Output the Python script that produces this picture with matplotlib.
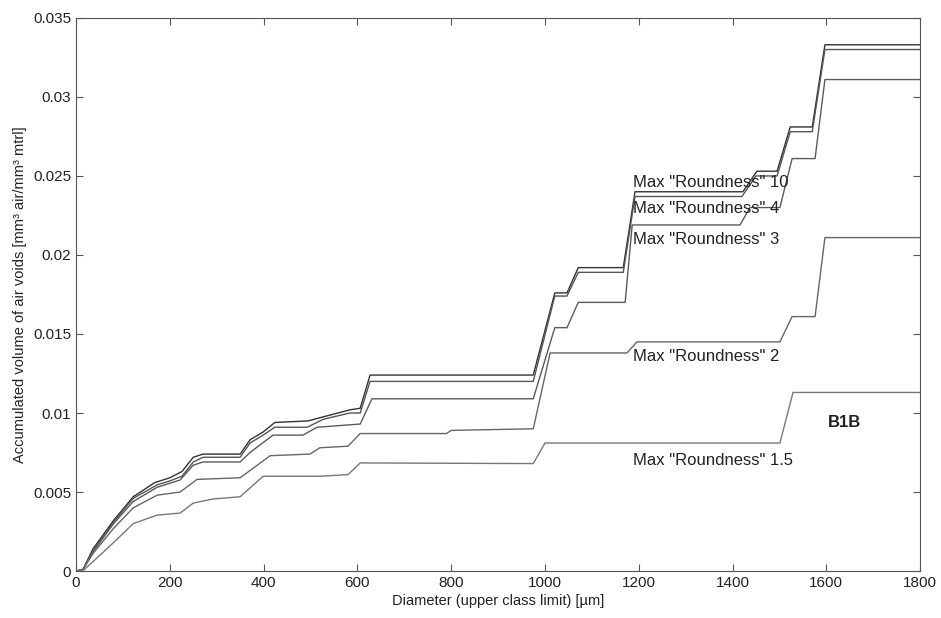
import matplotlib.pyplot as plt

plt.rcParams['font.family'] = ['Liberation Sans', 'DejaVu Sans']

# Max "Roundness" 10
x_r10 = [0, 15, 36, 80, 122, 168, 200, 226, 250, 271, 350, 371, 399, 424, 495, 520, 584, 606, 627,
         975, 1021, 1047, 1071, 1167, 1192, 1422, 1452, 1495, 1523, 1570, 1597, 1800]
y_r10 = [0, 0.0001, 0.0014, 0.0032, 0.0047, 0.0056, 0.0059, 0.0063, 0.0072, 0.0074, 0.0074, 0.0083,
         0.0088, 0.0094, 0.0095, 0.0097, 0.0102, 0.0103, 0.0124, 0.0124, 0.0176, 0.0176, 0.0192,
         0.0192, 0.0240, 0.0240, 0.0253, 0.0253, 0.0281, 0.0281, 0.0333, 0.0333]

# Max "Roundness" 4
x_r4 = [0, 15, 36, 80, 122, 173, 200, 226, 250, 271, 350, 371, 399, 424, 493, 527, 584, 606, 627,
        975, 1021, 1047, 1071, 1167, 1192, 1420, 1450, 1495, 1523, 1570, 1597, 1800]
y_r4 = [0, 0.0001, 0.0013, 0.0031, 0.0046, 0.00545, 0.0057, 0.0060, 0.0069, 0.0072, 0.0072, 0.0081,
        0.0086, 0.0091, 0.0091, 0.0096, 0.0100, 0.0100, 0.0120, 0.0120, 0.0174, 0.0174, 0.0189,
        0.0189, 0.0237, 0.0237, 0.0250, 0.0250, 0.0278, 0.0278, 0.0330, 0.0330]

# Max "Roundness" 3
x_r3 = [0, 15, 36, 80, 122, 173, 222, 250, 271, 350, 371, 420, 484, 514, 606, 631, 975, 1021, 1047,
        1071, 1171, 1186, 1416, 1437, 1501, 1527, 1576, 1597, 1800]
y_r3 = [0, 0.0001, 0.0012, 0.0030, 0.0044, 0.0053, 0.00576, 0.0067, 0.0069, 0.0069, 0.0075, 0.0086,
        0.0086, 0.0091, 0.0093, 0.0109, 0.0109, 0.0154, 0.0154, 0.0170, 0.0170, 0.0219, 0.0219,
        0.0230, 0.0230, 0.0261, 0.0261, 0.0311, 0.0311]

# Max "Roundness" 2
x_r2 = [0, 15, 36, 80, 122, 173, 222, 258, 350, 414, 499, 520, 580, 606, 790, 800, 975, 1011, 1175,
        1196, 1501, 1527, 1576, 1597, 1800]
y_r2 = [0, 0.0001, 0.0011, 0.0027, 0.0040, 0.0048, 0.0050, 0.0058, 0.0059, 0.0073, 0.0074, 0.0078,
        0.0079, 0.0087, 0.0087, 0.0089, 0.0090, 0.0138, 0.0138, 0.0145, 0.0145, 0.0161, 0.0161,
        0.0211, 0.0211]

# Max "Roundness" 1.5
x_r15 = [0, 15, 40, 80, 122, 173, 222, 250, 292, 350, 399, 520, 580, 606, 975, 1000, 1501, 1529, 1800]
y_r15 = [0, 0.00003, 0.0007, 0.0018, 0.0030, 0.00354, 0.00367, 0.0043, 0.00456, 0.0047, 0.0060,
         0.0060, 0.0061, 0.00684, 0.0068, 0.0081, 0.0081, 0.0113, 0.0113]

labels = ['Max "Roundness" 10', 'Max "Roundness" 4', 'Max "Roundness" 3',
          'Max "Roundness" 2', 'Max "Roundness" 1.5']
label_y = [0.02456, 0.02297, 0.0210, 0.0136, 0.00702]
label_x = 1188

xticks = [0, 200, 400, 600, 800, 1000, 1200, 1400, 1600, 1800]
yticks = [0, 0.005, 0.01, 0.015, 0.02, 0.025, 0.03, 0.035]
ytick_labels = ['0', '0.005', '0.01', '0.015', '0.02', '0.025', '0.03', '0.035']

fig = plt.figure(figsize=(9.41, 6.18), dpi=100)
ax = fig.add_axes([0.0808, 0.076, 0.897, 0.895])

series = [(x_r10, y_r10, '#333333'), (x_r4, y_r4, '#555555'), (x_r3, y_r3, '#5a5a5a'),
          (x_r2, y_r2, '#666666'), (x_r15, y_r15, '#777777')]
for xs, ys, c in series:
    ax.plot(xs, ys, color=c, lw=1.0)

for lab, ly in zip(labels, label_y):
    ax.text(label_x, ly, lab, fontsize=12, color='#222222', va='center', ha='left')
ax.text(1638, 0.00943, 'B1B', fontsize=12, color='#222222', va='center', ha='center',
        fontweight='bold')

ax.set_xlim(0, 1800)
ax.set_ylim(0, 0.035)
ax.set_xticks(xticks)
ax.set_yticks(yticks)
ax.set_yticklabels(ytick_labels)
ax.tick_params(direction='in', top=True, right=True, labelsize=11, length=5,
               color='#555555', labelcolor='#222222')
for s in ax.spines.values():
    s.set_color('#555555')

ax.set_xlabel('Diameter (upper class limit) [µm]', fontsize=10.5, color='#222222', labelpad=3)
ax.set_ylabel('Accumulated volume of air voids [mm³ air/mm³ mtrl]', fontsize=10.5,
              color='#222222', labelpad=4)

fig.savefig('out.png', dpi=100)
